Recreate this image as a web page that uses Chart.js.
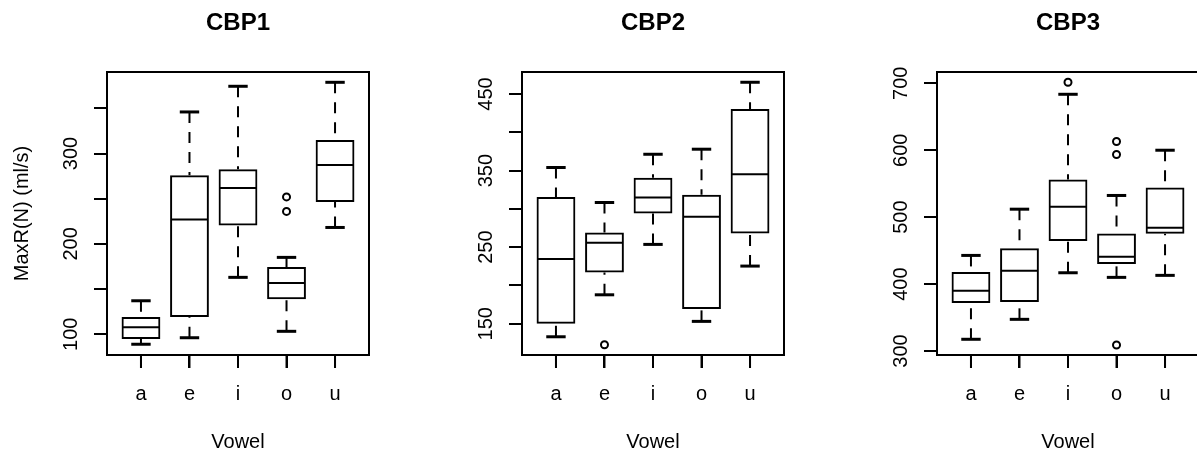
<!DOCTYPE html>
<html>
<head>
<meta charset="utf-8">
<script src="https://cdn.jsdelivr.net/npm/chart.js@4"></script>
<style>
  html, body { margin: 0; padding: 0; background: #fff; overflow: hidden; }
  #wrap { position: relative; width: 1197px; height: 452px; overflow: hidden; background: #fff; }
  #wrap canvas { position: absolute; top: 0; }
</style>
</head>
<body>
<div id="wrap">
  <canvas id="c1" width="380" height="452" style="left:0px;width:380px;height:452px"></canvas>
  <canvas id="c2" width="380" height="452" style="left:415px;width:380px;height:452px"></canvas>
  <canvas id="c3" width="380" height="452" style="left:830px;width:380px;height:452px"></canvas>
</div>
<script>
// categories
const vowels = ['a', 'e', 'i', 'o', 'u'];

// CBP1 box stats (whisker low, Q1, median, Q3, whisker high) + outliers
const cbp1Lo  = [89.0, 96.2, 163.0, 103.3, 218.2];
const cbp1Q1  = [94.8, 119.1, 220.4, 138.7, 246.5];
const cbp1Med = [107.7, 227.1, 262.0, 156.7, 287.4];
const cbp1Q3  = [119.1, 276.0, 282.6, 174.4, 315.0];
const cbp1Hi  = [137.1, 346.0, 374.4, 185.1, 378.8];
const cbp1Out = [['o', 252], ['o', 236]];
const cbp1YTicks = [100, 150, 200, 250, 300, 350];
const cbp1YLabels = [100, 200, 300];

// CBP2
const cbp2Lo  = [133.0, 187.8, 253.6, 153.1, 225.3];
const cbp2Q1  = [150.0, 217.0, 294.0, 169.2, 267.9];
const cbp2Med = [234.4, 255.7, 314.8, 289.6, 345.2];
const cbp2Q3  = [315.6, 269.2, 340.5, 318.3, 430.4];
const cbp2Hi  = [354.0, 308.3, 371.3, 377.9, 465.3];
const cbp2Out = [['e', 122.6]];
const cbp2YTicks = [150, 200, 250, 300, 350, 400, 450];
const cbp2YLabels = [150, 250, 350, 450];

// CBP3
const cbp3Lo  = [317.5, 347.3, 416.9, 410.0, 413.0];
const cbp3Q1  = [371.6, 373.1, 464.2, 429.9, 475.1];
const cbp3Med = [390.0, 419.9, 515.4, 440.7, 484.0];
const cbp3Q3  = [417.9, 453.7, 556.3, 475.7, 544.3];
const cbp3Hi  = [442.8, 511.9, 683.6, 532.4, 600.0];
const cbp3Out = [['i', 701.5], ['o', 613], ['o', 593.6], ['o', 309]];
const cbp3YTicks = [300, 400, 500, 600, 700];
const cbp3YLabels = [300, 400, 500, 600, 700];

const FONT = "'Liberation Sans', Arial, Helvetica, sans-serif";

function line(ctx, x1, y1, x2, y2) {
  ctx.beginPath();
  ctx.moveTo(x1, y1);
  ctx.lineTo(x2, y2);
  ctx.stroke();
}

// whiskers, staples, medians, frame, x tick marks, title and rotated y labels
function boxPlugin(title, st, yLabels) {
  return {
    id: 'box_' + title,
    beforeDatasetsDraw(chart) {
      const { ctx, scales: { x, y } } = chart;
      const capHalf = x.getPixelForValue(1.2) - x.getPixelForValue(1);
      ctx.save();
      ctx.strokeStyle = '#000';
      ctx.lineCap = 'butt';
      st.lo.forEach((lo, i) => {
        const cx = x.getPixelForValue(i + 1);
        ctx.lineWidth = 2;
        ctx.setLineDash([11, 9]);
        line(ctx, cx, y.getPixelForValue(st.hi[i]), cx, y.getPixelForValue(st.q3[i]));
        line(ctx, cx, y.getPixelForValue(lo), cx, y.getPixelForValue(st.q1[i]));
        ctx.setLineDash([]);
        ctx.lineWidth = 3;
        [lo, st.hi[i]].forEach(v => {
          const py = y.getPixelForValue(v);
          line(ctx, cx - capHalf, py, cx + capHalf, py);
        });
      });
      ctx.restore();
    },
    afterDatasetsDraw(chart) {
      const { ctx, scales: { x, y } } = chart;
      ctx.save();
      ctx.strokeStyle = '#000';
      ctx.lineWidth = 2;
      st.med.forEach((m, i) => {
        const py = y.getPixelForValue(m);
        line(ctx, x.getPixelForValue(i + 0.6) + 1, py, x.getPixelForValue(i + 1.4) - 1, py);
      });
      ctx.restore();
    },
    afterDraw(chart) {
      const { ctx, chartArea: ca, scales: { x, y } } = chart;
      ctx.save();
      ctx.setLineDash([]);
      ctx.fillStyle = '#000';

      // x tick marks below the frame
      vowels.forEach((v, i) => {
        const px = x.getPixelForValue(i + 1);
        ctx.fillRect(px - 1, ca.bottom, 2, 13);
      });

      ctx.strokeStyle = '#000';
      ctx.lineWidth = 2;
      ctx.strokeRect(ca.left, ca.top, ca.right - ca.left, ca.bottom - ca.top);

      ctx.font = 'bold 24px ' + FONT;
      ctx.textAlign = 'center';
      ctx.textBaseline = 'alphabetic';
      ctx.fillText(title, (ca.left + ca.right) / 2, 30);

      ctx.font = '20px ' + FONT;
      yLabels.forEach(v => {
        ctx.save();
        ctx.translate(ca.left - 30, y.getPixelForValue(v));
        ctx.rotate(-Math.PI / 2);
        ctx.fillText(String(v), 0, 0);
        ctx.restore();
      });
      ctx.restore();
    }
  };
}

function makePanel(id, title, st, outs, yMin, yMax, yTicks, yLabels, showYTitle) {
  return new Chart(document.getElementById(id), {
    type: 'bar',
    data: {
      datasets: [
        {
          type: 'bar',
          data: vowels.map((v, i) => ({ x: i + 1, y: [st.q1[i], st.q3[i]] })),
          backgroundColor: 'rgba(0,0,0,0)',
          borderColor: '#000',
          borderWidth: 2,
          borderSkipped: false,
          barPercentage: 0.8,
          categoryPercentage: 1
        },
        {
          type: 'scatter',
          data: outs.map(([v, val]) => ({ x: vowels.indexOf(v) + 1, y: val })),
          pointRadius: 3.5,
          pointBorderWidth: 2,
          pointBackgroundColor: 'rgba(0,0,0,0)',
          pointBorderColor: '#000',
          showLine: false
        }
      ]
    },
    options: {
      responsive: false,
      animation: false,
      events: [],
      layout: { padding: { top: 72, right: 11, left: 0, bottom: 0 } },
      plugins: { legend: { display: false }, tooltip: { enabled: false }, title: { display: false } },
      scales: {
        x: {
          type: 'linear', min: 0.3, max: 5.7, offset: false,
          afterBuildTicks: s => { s.ticks = vowels.map((v, i) => ({ value: i + 1 })); },
          afterFit: s => { s.height = 97; },
          grid: { display: true, drawOnChartArea: false, drawTicks: true, tickLength: 13, color: '#000', lineWidth: 2, offset: false },
          border: { display: false },
          ticks: {
            autoSkip: false, maxRotation: 0, minRotation: 0, padding: 14, color: '#000',
            font: { family: FONT, size: 20 },
            callback: v => vowels[v - 1] || ''
          },
          title: { display: true, text: 'Vowel', color: '#000', font: { family: FONT, size: 20, lineHeight: 1 }, padding: 0 }
        },
        y: {
          type: 'linear', min: yMin, max: yMax, offset: false,
          afterBuildTicks: s => { s.ticks = yTicks.map(v => ({ value: v })); },
          afterFit: s => { s.width = 107; },
          grid: { drawOnChartArea: false, drawTicks: true, tickLength: 13, color: '#000', lineWidth: 2 },
          border: { display: false },
          ticks: { display: false },
          title: {
            display: showYTitle, text: 'MaxR(N) (ml/s)', color: '#000',
            font: { family: FONT, size: 20, lineHeight: 1 }, padding: { top: 12, bottom: 0 }
          }
        }
      }
    },
    plugins: [boxPlugin(title, st, yLabels)]
  });
}

makePanel('c1', 'CBP1',
  { lo: cbp1Lo, q1: cbp1Q1, med: cbp1Med, q3: cbp1Q3, hi: cbp1Hi },
  cbp1Out, 77.1, 390.2, cbp1YTicks, cbp1YLabels, true);
makePanel('c2', 'CBP2',
  { lo: cbp2Lo, q1: cbp2Q1, med: cbp2Med, q3: cbp2Q3, hi: cbp2Hi },
  cbp2Out, 109.2, 478.7, cbp2YTicks, cbp2YLabels, false);
makePanel('c3', 'CBP3',
  { lo: cbp3Lo, q1: cbp3Q1, med: cbp3Med, q3: cbp3Q3, hi: cbp3Hi },
  cbp3Out, 294.0, 716.9, cbp3YTicks, cbp3YLabels, false);
</script>
</body>
</html>
